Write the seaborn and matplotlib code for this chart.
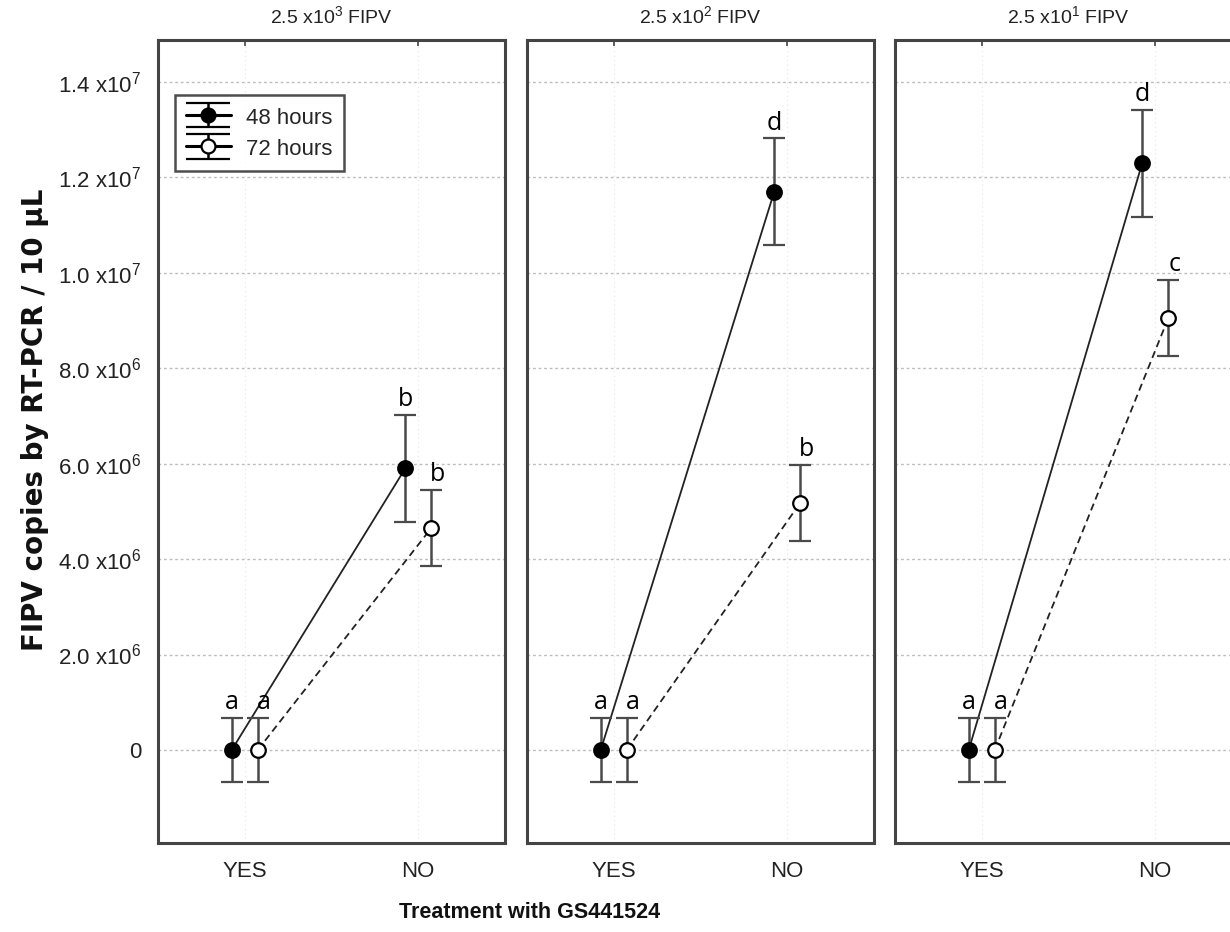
import matplotlib
matplotlib.use("Agg")
import matplotlib.pyplot as plt
from matplotlib.legend_handler import HandlerErrorbar
import seaborn as sns
import numpy as np
import pandas as pd

# ---- data ----
treatments = ["YES", "NO"]
panel_titles = [r"2.5 x10$^{3}$ FIPV", r"2.5 x10$^{2}$ FIPV", r"2.5 x10$^{1}$ FIPV"]
series_names = ["48 hours", "72 hours"]

mean_48h = [[0.0, 5.9e6], [0.0, 11.7e6], [0.0, 12.3e6]]
err_48h = [[0.67e6, 1.13e6], [0.67e6, 1.12e6], [0.67e6, 1.12e6]]
mean_72h = [[0.0, 4.65e6], [0.0, 5.18e6], [0.0, 9.05e6]]
err_72h = [[0.67e6, 0.80e6], [0.67e6, 0.80e6], [0.67e6, 0.80e6]]
letters_48h = [["a", "b"], ["a", "d"], ["a", "d"]]
letters_72h = [["a", "b"], ["a", "b"], ["a", "c"]]

ytick_vals = [0, 2e6, 4e6, 6e6, 8e6, 10e6, 12e6, 14e6]
ytick_labels = ["0", r"2.0 x10$^{6}$", r"4.0 x10$^{6}$", r"6.0 x10$^{6}$",
                r"8.0 x10$^{6}$", r"1.0 x10$^{7}$", r"1.2 x10$^{7}$", r"1.4 x10$^{7}$"]

sns.set_style("white")
plt.rcParams["font.family"] = ["Liberation Sans", "DejaVu Sans"]
plt.rcParams["mathtext.fontset"] = "custom"
plt.rcParams["mathtext.rm"] = "Liberation Sans"
plt.rcParams["mathtext.it"] = "Liberation Sans"

fig = plt.figure(figsize=(12.3, 9.32), dpi=100)
lefts = [158 / 1230, 527 / 1230, 895 / 1230]
width = 347 / 1230
bottom = 1 - 843 / 932
height = (843 - 40) / 932

spine_c = "#444444"
err_c = "#4a4a4a"
dodge = 0.075

for i in range(3):
    ax = fig.add_axes([lefts[i], bottom, width, height])
    rows = []
    for s, means, errs in [("48 hours", mean_48h[i], err_48h[i]),
                           ("72 hours", mean_72h[i], err_72h[i])]:
        off = -dodge if s == "48 hours" else dodge
        for j, t in enumerate(treatments):
            rows.append({"series": s, "treatment": t, "x": j + off,
                         "mean": means[j], "err": errs[j]})
    df = pd.DataFrame(rows)

    sns.lineplot(data=df, x="x", y="mean", style="series",
                 dashes={"48 hours": "", "72 hours": (4, 2.5)},
                 color="#222222", linewidth=1.3, ax=ax, legend=False,
                 sort=False, estimator=None)

    for s, fc in [("48 hours", "black"), ("72 hours", "white")]:
        sub = df[df["series"] == s]
        ax.errorbar(sub["x"], sub["mean"], yerr=sub["err"], fmt="o",
                    mfc=fc, mec="black", mew=1.6, ms=10.5,
                    ecolor=err_c, elinewidth=1.8, capsize=8, capthick=1.8,
                    zorder=5)

    for s, lets in [("48 hours", letters_48h[i]), ("72 hours", letters_72h[i])]:
        sub = df[df["series"] == s].reset_index(drop=True)
        for j in range(2):
            xo = 0.0 if s == "48 hours" else 0.035
            ax.annotate(lets[j], (sub.loc[j, "x"] + xo, sub.loc[j, "mean"] + sub.loc[j, "err"]),
                        xytext=(0, 2), textcoords="offset points",
                        ha="center", va="bottom", fontsize=18,
                        family=["Open Sans", "DejaVu Sans"], color="black")

    ax.set_xlim(-0.5, 1.5)
    ax.set_ylim(-1.95e6, 1.488e7)
    ax.set_xticks([0, 1])
    ax.set_xticklabels(treatments, fontsize=16, color="#222222")
    ax.set_yticks(ytick_vals)
    if i == 0:
        ax.set_yticklabels(ytick_labels, fontsize=16, color="#222222")
    else:
        ax.set_yticklabels([])
    ax.tick_params(axis="both", direction="in", length=4, width=1.2, color=spine_c,
                   pad=13, top=True)
    ax.tick_params(axis="y", pad=12)
    ax.grid(axis="y", linestyle=(0, (2, 2)), color="#bdbdbd", linewidth=1.0)
    ax.grid(axis="x", linestyle=(0, (1, 3)), color="#e6e6e6", linewidth=0.8)
    ax.set_axisbelow(True)
    for sp in ax.spines.values():
        sp.set_color(spine_c)
        sp.set_linewidth(2.2)
    ax.set_xlabel("")
    ax.set_ylabel("")
    ax.set_title(panel_titles[i], fontsize=14, color="#222222", pad=12)

    if i == 0:
        # legend proxies (no data), styled like the plotted error bars
        proxies = []
        for fc in ["black", "white"]:
            p = ax.errorbar([np.nan], [np.nan], yerr=[np.nan], fmt="o", mfc=fc,
                            mec="black", mew=1.6, ms=10, ecolor="black",
                            elinewidth=1.8, capsize=16, capthick=2.2,
                            linestyle="-", color="black", lw=2.2)
            proxies.append(p)
        leg = ax.legend(handles=proxies, labels=series_names, loc="upper left",
                        bbox_to_anchor=(0.049, 0.9315), borderaxespad=0,
                        fontsize=16, frameon=True,
                        fancybox=False, edgecolor="#222222", handlelength=2.0,
                        handleheight=1.0, borderpad=0.5, labelspacing=0.4,
                        handletextpad=0.7,
                        handler_map={type(proxies[0]): HandlerErrorbar(yerr_size=0.55)})
        leg.get_frame().set_linewidth(1.8)

fig.text(530 / 1230, 1 - 913 / 932, "Treatment with GS441524", ha="center",
         va="center", fontsize=15.5, fontweight="bold", color="#111111")
fig.text(35 / 1230, 1 - 420 / 932, "FIPV copies by RT-PCR / 10 µL", ha="center",
         va="center", rotation=90, fontsize=20, fontweight="bold", color="#111111",
         family=["DejaVu Sans"])

fig.savefig("out.png", dpi=100)
